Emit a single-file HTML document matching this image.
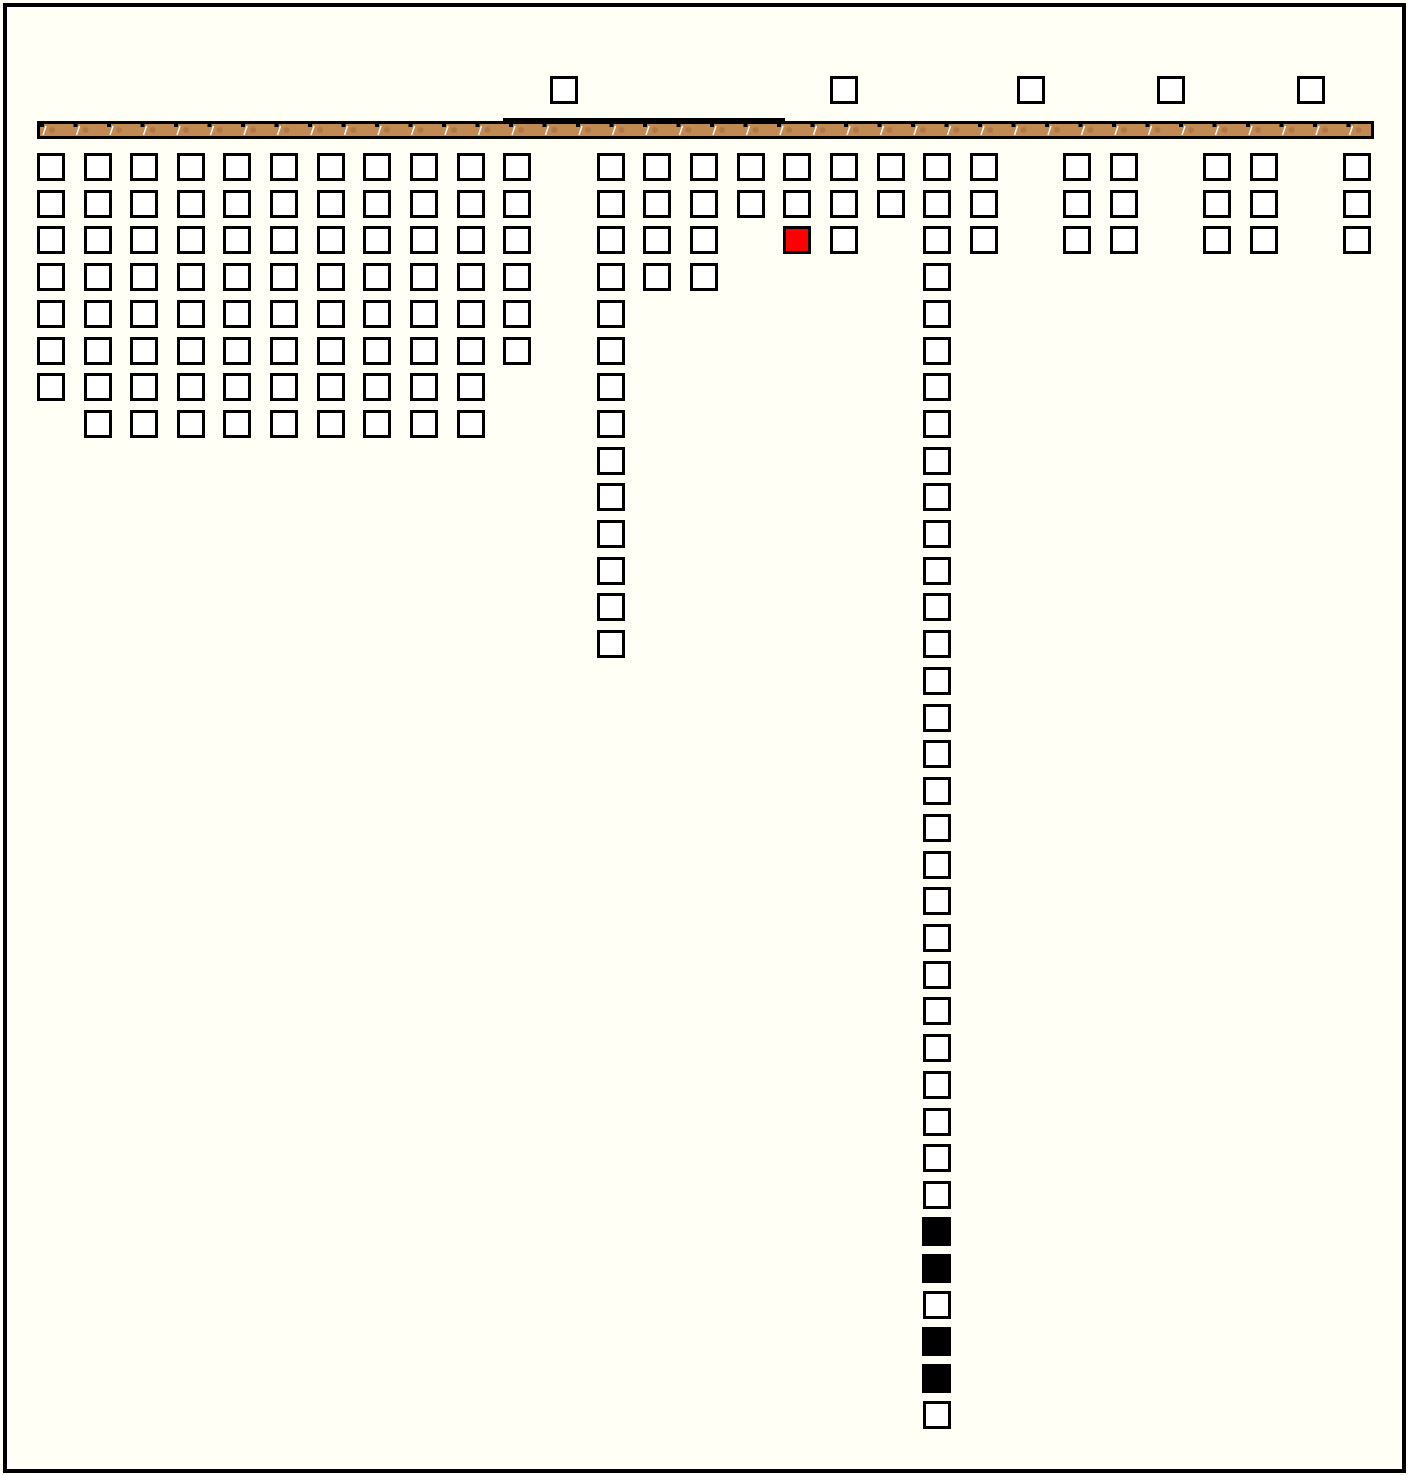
<!DOCTYPE html>
<html><head><meta charset="utf-8"><style>html,body{margin:0;padding:0;background:#fffff5;}svg{display:block}</style></head>
<body>
<svg width="1408" height="1475" viewBox="0 0 1408 1475" xmlns="http://www.w3.org/2000/svg">
<defs>
<symbol id="s" overflow="visible"><rect x="1.5" y="1.5" width="25" height="25" fill="#fff" stroke="#000" stroke-width="3"/></symbol>
<symbol id="r" overflow="visible"><rect x="1.5" y="1.5" width="25" height="25" fill="#f00" stroke="#000" stroke-width="3"/></symbol>
<symbol id="b" overflow="visible"><rect x="0" y="0" width="29" height="29" fill="#000"/></symbol>
<pattern id="p" x="40" y="124" width="33.5" height="12" patternUnits="userSpaceOnUse">
<rect width="33.5" height="12" fill="#c08a52"/>
<circle cx="12" cy="6" r="3" fill="#a86a3e" opacity="0.6"/>
<path d="M3 11 L6 2" stroke="#fff" stroke-width="1.5"/>
<rect x="0" y="0" width="4" height="3" fill="#000"/>
</pattern>
</defs>
<rect x="5" y="5" width="1399" height="1466" fill="#fffff5" stroke="#000" stroke-width="4"/>
<rect x="37" y="121" width="1337" height="18" fill="#000"/>
<rect x="40" y="124" width="1331" height="12" fill="url(#p)"/>
<rect x="503" y="118" width="282" height="4" fill="#000"/>
<g>
<use href="#s" x="550" y="76"/><use href="#s" x="830" y="76"/><use href="#s" x="1017" y="76"/><use href="#s" x="1157" y="76"/><use href="#s" x="1297" y="76"/>
<!-- col0 -->
<use href="#s" x="37" y="153"/><use href="#s" x="37" y="190"/><use href="#s" x="37" y="226"/><use href="#s" x="37" y="263"/><use href="#s" x="37" y="300"/><use href="#s" x="37" y="337"/><use href="#s" x="37" y="373"/>
<!-- cols 1-9 -->
<use href="#s" x="84" y="153"/><use href="#s" x="84" y="190"/><use href="#s" x="84" y="226"/><use href="#s" x="84" y="263"/><use href="#s" x="84" y="300"/><use href="#s" x="84" y="337"/><use href="#s" x="84" y="373"/><use href="#s" x="84" y="410"/>
<use href="#s" x="130" y="153"/><use href="#s" x="130" y="190"/><use href="#s" x="130" y="226"/><use href="#s" x="130" y="263"/><use href="#s" x="130" y="300"/><use href="#s" x="130" y="337"/><use href="#s" x="130" y="373"/><use href="#s" x="130" y="410"/>
<use href="#s" x="177" y="153"/><use href="#s" x="177" y="190"/><use href="#s" x="177" y="226"/><use href="#s" x="177" y="263"/><use href="#s" x="177" y="300"/><use href="#s" x="177" y="337"/><use href="#s" x="177" y="373"/><use href="#s" x="177" y="410"/>
<use href="#s" x="223" y="153"/><use href="#s" x="223" y="190"/><use href="#s" x="223" y="226"/><use href="#s" x="223" y="263"/><use href="#s" x="223" y="300"/><use href="#s" x="223" y="337"/><use href="#s" x="223" y="373"/><use href="#s" x="223" y="410"/>
<use href="#s" x="270" y="153"/><use href="#s" x="270" y="190"/><use href="#s" x="270" y="226"/><use href="#s" x="270" y="263"/><use href="#s" x="270" y="300"/><use href="#s" x="270" y="337"/><use href="#s" x="270" y="373"/><use href="#s" x="270" y="410"/>
<use href="#s" x="317" y="153"/><use href="#s" x="317" y="190"/><use href="#s" x="317" y="226"/><use href="#s" x="317" y="263"/><use href="#s" x="317" y="300"/><use href="#s" x="317" y="337"/><use href="#s" x="317" y="373"/><use href="#s" x="317" y="410"/>
<use href="#s" x="363" y="153"/><use href="#s" x="363" y="190"/><use href="#s" x="363" y="226"/><use href="#s" x="363" y="263"/><use href="#s" x="363" y="300"/><use href="#s" x="363" y="337"/><use href="#s" x="363" y="373"/><use href="#s" x="363" y="410"/>
<use href="#s" x="410" y="153"/><use href="#s" x="410" y="190"/><use href="#s" x="410" y="226"/><use href="#s" x="410" y="263"/><use href="#s" x="410" y="300"/><use href="#s" x="410" y="337"/><use href="#s" x="410" y="373"/><use href="#s" x="410" y="410"/>
<use href="#s" x="457" y="153"/><use href="#s" x="457" y="190"/><use href="#s" x="457" y="226"/><use href="#s" x="457" y="263"/><use href="#s" x="457" y="300"/><use href="#s" x="457" y="337"/><use href="#s" x="457" y="373"/><use href="#s" x="457" y="410"/>
<!-- col10 -->
<use href="#s" x="503" y="153"/><use href="#s" x="503" y="190"/><use href="#s" x="503" y="226"/><use href="#s" x="503" y="263"/><use href="#s" x="503" y="300"/><use href="#s" x="503" y="337"/>
<!-- col12 -->
<use href="#s" x="597" y="153"/><use href="#s" x="597" y="190"/><use href="#s" x="597" y="226"/><use href="#s" x="597" y="263"/><use href="#s" x="597" y="300"/><use href="#s" x="597" y="337"/><use href="#s" x="597" y="373"/><use href="#s" x="597" y="410"/><use href="#s" x="597" y="447"/><use href="#s" x="597" y="483"/><use href="#s" x="597" y="520"/><use href="#s" x="597" y="557"/><use href="#s" x="597" y="593"/><use href="#s" x="597" y="630"/>
<!-- col13,14 -->
<use href="#s" x="643" y="153"/><use href="#s" x="643" y="190"/><use href="#s" x="643" y="226"/><use href="#s" x="643" y="263"/>
<use href="#s" x="690" y="153"/><use href="#s" x="690" y="190"/><use href="#s" x="690" y="226"/><use href="#s" x="690" y="263"/>
<!-- col15-18 -->
<use href="#s" x="737" y="153"/><use href="#s" x="737" y="190"/>
<use href="#s" x="783" y="153"/><use href="#s" x="783" y="190"/><use href="#r" x="783" y="226"/>
<use href="#s" x="830" y="153"/><use href="#s" x="830" y="190"/><use href="#s" x="830" y="226"/>
<use href="#s" x="877" y="153"/><use href="#s" x="877" y="190"/>
<!-- col19 -->
<use href="#s" x="923" y="153"/><use href="#s" x="923" y="190"/><use href="#s" x="923" y="226"/><use href="#s" x="923" y="263"/><use href="#s" x="923" y="300"/><use href="#s" x="923" y="337"/><use href="#s" x="923" y="373"/><use href="#s" x="923" y="410"/><use href="#s" x="923" y="447"/><use href="#s" x="923" y="483"/><use href="#s" x="923" y="520"/><use href="#s" x="923" y="557"/><use href="#s" x="923" y="593"/><use href="#s" x="923" y="630"/><use href="#s" x="923" y="667"/><use href="#s" x="923" y="704"/><use href="#s" x="923" y="740"/><use href="#s" x="923" y="777"/><use href="#s" x="923" y="814"/><use href="#s" x="923" y="851"/><use href="#s" x="923" y="887"/><use href="#s" x="923" y="924"/><use href="#s" x="923" y="961"/><use href="#s" x="923" y="997"/><use href="#s" x="923" y="1034"/><use href="#s" x="923" y="1071"/><use href="#s" x="923" y="1108"/><use href="#s" x="923" y="1144"/><use href="#s" x="923" y="1181"/>
<use href="#b" x="922" y="1217"/><use href="#b" x="922" y="1254"/><use href="#s" x="923" y="1291"/><use href="#b" x="922" y="1327"/><use href="#b" x="922" y="1364"/><use href="#s" x="923" y="1401"/>
<!-- right cols -->
<use href="#s" x="970" y="153"/><use href="#s" x="970" y="190"/><use href="#s" x="970" y="226"/>
<use href="#s" x="1063" y="153"/><use href="#s" x="1063" y="190"/><use href="#s" x="1063" y="226"/>
<use href="#s" x="1110" y="153"/><use href="#s" x="1110" y="190"/><use href="#s" x="1110" y="226"/>
<use href="#s" x="1203" y="153"/><use href="#s" x="1203" y="190"/><use href="#s" x="1203" y="226"/>
<use href="#s" x="1250" y="153"/><use href="#s" x="1250" y="190"/><use href="#s" x="1250" y="226"/>
<use href="#s" x="1343" y="153"/><use href="#s" x="1343" y="190"/><use href="#s" x="1343" y="226"/>
</g>
</svg>
</body></html>
